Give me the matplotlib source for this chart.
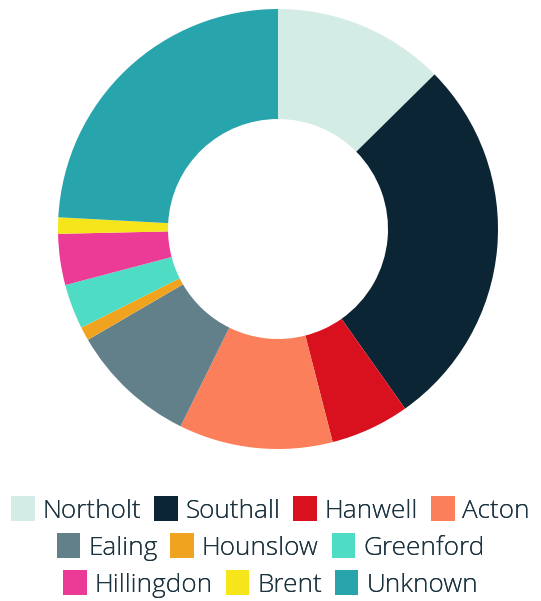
import matplotlib
matplotlib.use("Agg")
import matplotlib.pyplot as plt
from matplotlib.patches import Patch

categories = ["Northolt", "Southall", "Hanwell", "Acton", "Ealing", "Hounslow",
              "Greenford", "Hillingdon", "Brent", "Unknown"]
values = [12.6, 27.6, 5.8, 11.3, 9.3, 1.0, 3.3, 3.75, 1.2, 24.15]
colors = ["#d4ece6", "#0b2535", "#d9101e", "#fa7f5a", "#62808a", "#f0a31f",
          "#4fdcc4", "#ec3b96", "#f7e51c", "#27a4ac"]
legend_rows = [[0, 1, 2, 3], [4, 5, 6], [7, 8, 9]]

plt.rcParams['font.family'] = ['Open Sans', 'DejaVu Sans']
fig = plt.figure(figsize=(5.41, 6.01), dpi=100)
W, H = 541, 601
cx, cy, r = 278, 229, 220
ax = fig.add_axes([(cx - r) / W, 1 - (cy + r) / H, 2 * r / W, 2 * r / H])
wedges, _ = ax.pie(values, colors=colors, startangle=90, counterclock=False,
                   wedgeprops=dict(width=0.5, linewidth=0))
ax.set_xlim(-1, 1)
ax.set_ylim(-1, 1)
ax.set_aspect('equal')
ax.axis('off')

row_y = [510, 547, 584]
for row, y in zip(legend_rows, row_y):
    handles = [Patch(facecolor=colors[i], edgecolor='none') for i in row]
    labels = [categories[i] for i in row]
    leg = fig.legend(handles, labels, loc='center', bbox_to_anchor=(0.5, 1 - y / H),
                     ncol=len(row), frameon=False,
                     prop=dict(size=18.8, weight='light'),
                     handlelength=0.9, handleheight=1.1, handletextpad=0.3,
                     columnspacing=0.5, borderpad=0, borderaxespad=0,
                     labelcolor='#1c3340')
    fig.add_artist(leg)

fig.savefig("out.png", dpi=100)
